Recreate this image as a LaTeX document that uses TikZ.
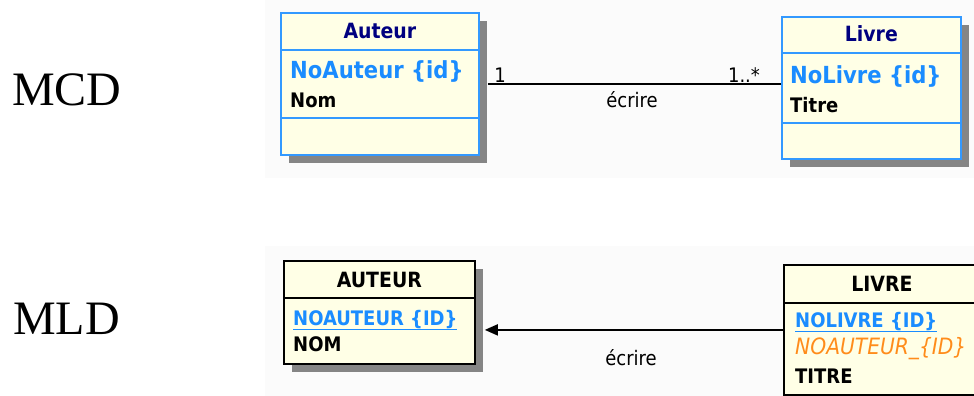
\documentclass[tikz,border=0pt]{standalone}
\usepackage{fontspec}
\setmainfont{Liberation Serif}
\newfontfamily\boxfont{DejaVu Sans Condensed}
\usetikzlibrary{shadows,arrows.meta}

\definecolor{classfill}{HTML}{FFFFE6}
\definecolor{mcdblue}{HTML}{3399FF}
\definecolor{idblue}{HTML}{1A8CFF}
\definecolor{titlenavy}{HTML}{000080}
\definecolor{fkorange}{HTML}{FF8C1A}
\definecolor{shadowgray}{HTML}{858585}

\tikzset{
  classbox/.style={draw, line width=1.8pt, fill=classfill, anchor=north west, inner sep=0pt,
    drop shadow={shadow xshift=8pt, shadow yshift=-8pt, fill=shadowgray, opacity=1}},
  mcdbox/.style={classbox, draw=mcdblue},
  mldbox/.style={classbox, draw=black},
  classname/.style={anchor=base, inner sep=0pt, font=\boxfont\bfseries\fontsize{21}{23}\selectfont},
  attr/.style={anchor=base west, inner sep=0pt, font=\boxfont\bfseries\fontsize{20}{22}\selectfont},
  idattr/.style={attr, text=idblue, font=\boxfont\bfseries\fontsize{23.5}{25}\selectfont},
  linklabel/.style={anchor=base, inner sep=0pt, font=\boxfont\fontsize{20}{22}\selectfont},
  modelname/.style={anchor=base west, inner sep=0pt, font=\fontsize{48}{50}\selectfont},
}

\begin{document}
\begin{tikzpicture}[x=1pt,y=-1pt]
\useasboundingbox (0,0) rectangle (974,396);
\clip (0,0) rectangle (974,396);
% backgrounds
\fill[black!1.5] (265,0) rectangle (974,178);
\fill[black!1.5] (265,246) rectangle (974,396);
% model names
\node[modelname] (mcd) at (12,105) {MCD};
\node[modelname] (mld) at (13,334) {MLD};
% MCD classes
\node[mcdbox, minimum width=198pt, minimum height=142pt] (auteur) at (280,12) {};
\draw[mcdblue, line width=1.5pt] (auteur.west |- 0,50) -- (auteur.east |- 0,50);
\draw[mcdblue, line width=1.5pt] (auteur.west |- 0,118) -- (auteur.east |- 0,118);
\node[classname, text=titlenavy] (auteurname) at (auteur.north |- 0,38) {Auteur};
\node[idattr] (noauteur) at (290,78) {NoAuteur \{id\}};
\node[attr] (nom) at (290,107) {Nom};

\node[mcdbox, minimum width=179pt, minimum height=142pt] (livre) at (781,16) {};
\draw[mcdblue, line width=1.5pt] (livre.west |- 0,53) -- (livre.east |- 0,53);
\draw[mcdblue, line width=1.5pt] (livre.west |- 0,123) -- (livre.east |- 0,123);
\node[classname, text=titlenavy] (livrename) at (livre.north |- 0,42) {Livre};
\node[idattr] (nolivre) at (790,83) {NoLivre \{id\}};
\node[attr] (titre) at (790,112) {Titre};

% association
\draw[line width=1.8pt, shorten <=8pt] (auteur.east) -- (auteur.east -| livre.west);
\node[linklabel] (cardauteur) at (500,82) {1};
\node[linklabel] (cardlivre) at (744,82) {1..*};
\node[linklabel] (ecrire) at (632,107) {écrire};

% MLD tables
\node[mldbox, minimum width=191pt, minimum height=103pt] (auteurtab) at (283,260) {};
\draw[line width=1.5pt] (auteurtab.west |- 0,298) -- (auteurtab.east |- 0,298);
\node[classname] (auteurtabname) at (auteurtab.north |- 0,287) {AUTEUR};
\node[attr, text=idblue] (noauteurcol) at (293,325) {\underline{NOAUTEUR \{ID\}}};
\node[attr] (nomcol) at (293,351) {NOM};

\node[mldbox, minimum width=196pt, minimum height=130pt] (livretab) at (783,264) {};
\draw[line width=1.5pt] (livretab.west |- 0,303) -- (livretab.east |- 0,303);
\node[classname] (livretabname) at (livretab.north |- 0,291) {LIVRE};
\node[attr, text=idblue] (nolivrecol) at (795,327) {\underline{NOLIVRE \{ID\}}};
\node[attr, font=\boxfont\itshape\fontsize{22.5}{24}\selectfont, text=fkorange] (fkcol) at (795,354) {NOAUTEUR\_\{ID\}};
\node[attr] (titrecol) at (795,383) {TITRE};

% reference
\draw[line width=1.8pt, -{Triangle[length=13pt,width=11pt]}, shorten >=9pt] (livretab.west) -- (livretab.west -| auteurtab.east);
\node[linklabel] (ecrireref) at (631,365) {écrire};
\end{tikzpicture}
\end{document}
